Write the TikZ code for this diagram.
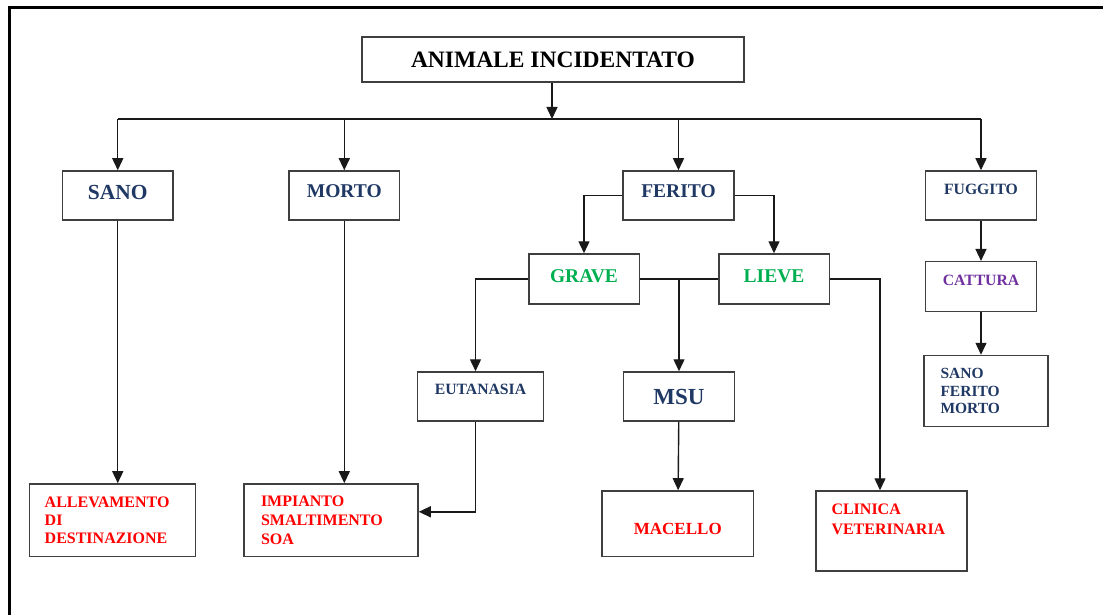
\documentclass[tikz,border=0pt]{standalone}
\usepackage{fontspec}
\setmainfont{Liberation Serif}
\usetikzlibrary{arrows.meta}
\definecolor{boxgray}{HTML}{3F3F3F}
\definecolor{titleblue}{HTML}{1F3864}
\definecolor{levelgreen}{HTML}{00B050}
\definecolor{outred}{HTML}{FF0000}
\definecolor{catchpurple}{HTML}{7030A0}

\begin{document}
\begin{tikzpicture}[>={Triangle[length=12pt,width=11pt]},x=1pt,y=-1pt,
  box/.style={draw=boxgray,line width=1.5pt,inner sep=0pt},
  link/.style={line width=1.4pt,draw=black!90}]
\useasboundingbox (0,0) rectangle (1103,615);
\draw[line width=3pt] (9,615)--(9,8)--(1103,8);
% top and first row
\node[box,minimum width=382pt,minimum height=45pt,font=\bfseries\fontsize{23.5}{26}\selectfont] (animale) at (553,59.5) {ANIMALE INCIDENTATO};
\node[box,minimum width=110.5pt,minimum height=49pt,text=titleblue,text depth=7pt,font=\bfseries\fontsize{21.5}{24}\selectfont] (sano) at (117.75,195.5) {SANO};
\node[box,minimum width=110.5pt,minimum height=49pt,text=titleblue,text depth=8pt,font=\bfseries\fontsize{19.5}{22}\selectfont] (morto) at (344.3,195.5) {MORTO};
\node[box,minimum width=111pt,minimum height=49pt,text=titleblue,text depth=8pt,font=\bfseries\fontsize{19.5}{22}\selectfont] (ferito) at (678.5,195.5) {FERITO};
\node[box,minimum width=111pt,minimum height=49pt,text=titleblue,text depth=12pt,font=\bfseries\fontsize{15.7}{18}\selectfont] (fuggito) at (981,195.5) {FUGGITO};
% second row
\node[box,minimum width=110.5pt,minimum height=50pt,text=levelgreen,text depth=5pt,font=\bfseries\fontsize{19.5}{22}\selectfont] (grave) at (584,279) {GRAVE};
\node[box,minimum width=110.5pt,minimum height=50pt,text=levelgreen,text depth=5pt,font=\bfseries\fontsize{19.5}{22}\selectfont] (lieve) at (774,279) {LIEVE};
\node[box,minimum width=111pt,minimum height=50pt,text=catchpurple,text depth=12pt,font=\bfseries\fontsize{15.7}{18}\selectfont] (cattura) at (981,286.7) {CATTURA};
\node[box,minimum width=125.6pt,minimum height=49pt,text=titleblue,text depth=14pt,font=\bfseries\fontsize{15.7}{18}\selectfont] (eutanasia) at (480.5,396.5) {EUTANASIA};
\node[box,minimum width=111pt,minimum height=49pt,text=titleblue,font=\bfseries\fontsize{23}{26}\selectfont] (msu) at (679,396.5) {MSU};
\node[box,minimum width=123.7pt,minimum height=71pt,text=titleblue,text width=91pt,align=left,font=\bfseries\fontsize{15.5}{17.75}\selectfont] (esito) at (986,391) {SANO\\FERITO\\MORTO};
% destinations
\node[box,minimum width=166pt,minimum height=72.7pt,text=outred,text width=136pt,align=left,font=\bfseries\fontsize{16}{18}\selectfont] (allevamento) at (112.7,520.3) {ALLEVAMENTO\\DI\\DESTINAZIONE};
\node[box,minimum width=174pt,minimum height=72.7pt,text=outred,text width=140pt,align=left,font=\bfseries\fontsize{16}{19}\selectfont] (impianto) at (331,520.3) {IMPIANTO\\SMALTIMENTO\\SOA};
\node[box,minimum width=151.6pt,minimum height=65.7pt,text=outred,text height=22pt,font=\bfseries\fontsize{17}{20}\selectfont] (macello) at (677.8,523.8) {MACELLO};
\node[box,minimum width=151pt,minimum height=80pt,text=outred,text width=120pt,align=left,text depth=43pt,font=\bfseries\fontsize{16}{19.5}\selectfont] (clinica) at (891.5,531) {CLINICA\\VETERINARIA};
% connectors
\coordinate (bus) at (552,119);
\draw[link,->] (animale.south -| bus)--(bus);
\draw[link] (sano |- bus)--(fuggito |- bus);
\draw[link,->] (sano |- bus)--(sano);
\draw[link,->] (morto |- bus)--(morto);
\draw[link,->] (ferito |- bus)--(ferito);
\draw[link,->] (fuggito |- bus)--(fuggito);
\draw[link,->] (ferito.west) -| (grave);
\draw[link,->] (ferito.east) -| (lieve);
\draw[link,->] (grave.west) -| ([xshift=-5pt]eutanasia.north);
\draw[link] (grave.east)--(lieve.west);
\draw[link,->] (grave.east -| msu)--(msu);
\draw[link,->] (lieve.east) -| ([xshift=-11.5pt]clinica.north);
\draw[link,->] ([xshift=-5pt]eutanasia.south) |- ([yshift=8.5pt]impianto.east);
\draw[link,->] (sano)--(sano |- allevamento.north);
\draw[link,->] (morto)--(morto |- impianto.north);
\draw[link,->] (msu)--(macello);
\draw[link,->] (fuggito)--(cattura);
\draw[link,->] (cattura)--(cattura |- esito.north);
\end{tikzpicture}
\end{document}
